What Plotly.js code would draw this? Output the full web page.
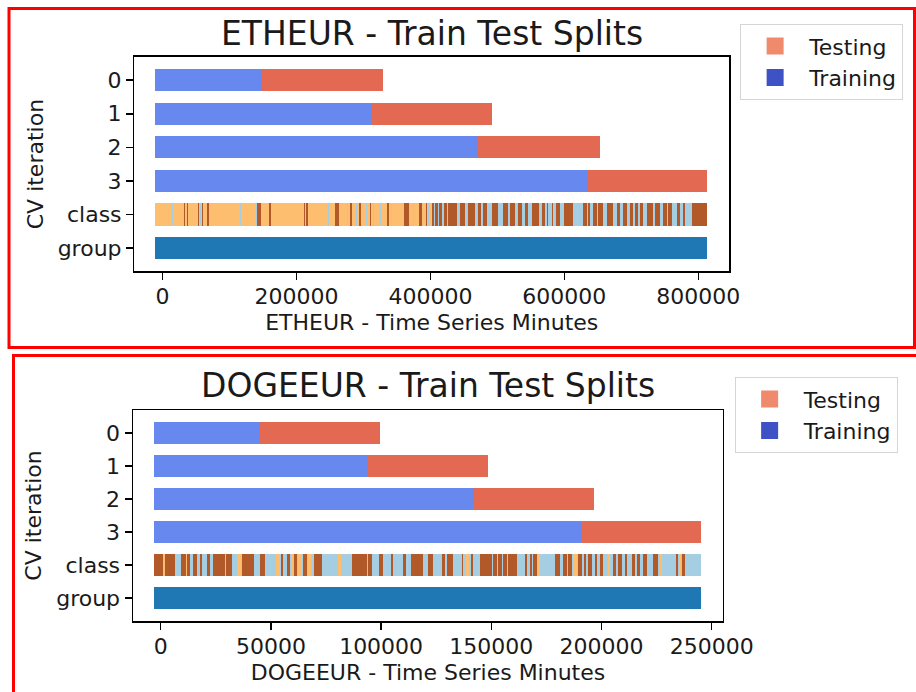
<!DOCTYPE html>
<html><head><meta charset="utf-8">
<script src="https://cdn.plot.ly/plotly-3.0.1.min.js"></script>
<style>html,body{margin:0;padding:0;background:#fff}#chart{width:916px;height:692px}</style>
</head><body><div id="chart"></div><script>
// ---------------- DATA (minutes) ----------------
const rowLabels = ['0', '1', '2', '3', 'class', 'group'];
const classColors = ['#fdbf6f', '#b15928', '#a6cee3']; // class id 0,1,2

// ETHEUR
const ethBarStart = -11400;
const ethTrainEnd = [148900, 311300, 471100, 634300];
const ethTestEnd  = [329600, 492400, 653300, 812700];
const ethTicks = [0, 200000, 400000, 600000, 800000];
// class runs, in thousands of minutes: [from, to, classId]
const ethClassRuns = [
  [-11.4,429.3,0],[429.3,812.7,2],
  [14.0,16.3,2],[32.0,34.2,1],[36.4,38.7,1],[52.9,54.4,1],[55.9,57.4,2],[58.8,60.3,1],[66.3,69.3,1],
  [115.6,117.1,2],[139.5,141.0,2],[141.7,147.7,1],[159.3,162.3,1],[211.2,213.4,1],[214.9,217.2,1],
  [247.0,248.5,2],[258.2,263.5,1],[275.4,276.9,2],[279.9,283.3,1],[288.8,290.3,2],[292.8,296.3,1],
  [303.8,305.3,2],[310.2,312.0,1],[314.2,315.7,2],[324.7,326.2,2],[334.6,338.6,1],[341.1,342.6,2],
  [360.0,368.5,1],[374.0,375.5,2],[382.4,387.9,1],[393.4,394.9,1],[396.4,397.9,2],
  [402.4,405.4,1],[405.4,406.9,2],[406.9,411.4,1],[411.4,412.9,2],[412.9,417.3,1],[417.3,420.3,2],
  [420.3,424.8,1],[424.8,426.3,2],[426.3,429.3,1],
  [429.3,439.3,1],[444.4,451.9,1],[456.6,466.6,1],[471.5,475.1,1],[479.0,484.1,1],[491.5,501.4,1],
  [508.9,516.3,1],[518.9,526.3,1],[531.3,536.3,1],[541.3,546.2,1],[551.3,562.6,1],[566.2,571.2,1],
  [573.7,576.1,1],[581.2,583.5,1],[587.6,593.6,1],[599.5,612.5,1],[628.4,633.4,1],[635.8,638.4,1],
  [643.3,648.4,1],[650.8,658.2,1],[663.3,673.2,1],[678.2,683.2,1],[688.1,693.2,1],[698.1,703.0,1],
  [705.6,710.5,1],[713.1,718.0,1],[723.1,733.0,1],[735.6,743.0,1],[747.8,752.9,1],[755.3,760.3,1],
  [767.9,772.8,1],[777.7,780.2,1],[790.3,812.7,1]
];

// DOGEEUR
const dogeBarStart = -3200;
const dogeTrainEnd = [45200, 94200, 142200, 191300];
const dogeTestEnd  = [99600, 148600, 196700, 245100];
const dogeTicks = [0, 50000, 100000, 150000, 200000, 250000];
const dogeClassRuns = [
  [-3.2,245.1,2],
  [-3.2,6.5,1],[1.0,2.0,0],[9.1,13.3,1],[11.5,11.9,0],[14.5,16.3,1],[17.8,18.6,1],[20.9,22.4,1],
  [23.6,29.2,1],[29.6,32.2,1],[34.8,36.3,0],[36.7,42.3,1],[45.1,47.3,1],[52.3,54.1,0],[54.4,55.6,1],
  [57.2,58.7,1],[59.0,60.2,0],[60.5,61.7,1],[62.4,64.0,0],[64.4,66.2,1],[66.8,68.1,0],[69.6,73.0,1],
  [80.6,81.7,0],[86.7,93.5,1],[94.2,95.7,1],[99.2,101.0,1],[104.4,105.5,1],[109.8,111.3,1],
  [111.6,112.3,0],[113.6,118.9,1],[121.4,123.7,1],[127.5,129.0,1],[129.8,132.8,1],[136.6,137.3,1],
  [138.5,140.0,0],[140.6,141.8,1],[144.9,150.2,1],[150.9,152.4,1],[153.2,154.7,1],[155.4,157.0,1],
  [157.7,161.5,1],[165.3,166.3,1],[167.6,168.3,1],[169.0,170.6,1],[171.3,172.1,0],[178.9,181.2,1],
  [182.7,184.2,1],[184.9,186.5,1],[187.2,188.7,0],[189.5,191.0,1],[192.1,193.0,1],[194.0,195.5,1],
  [197.0,197.8,1],[199.3,200.8,1],[203.1,203.8,0],[205.3,206.4,1],[207.6,209.2,1],[210.7,211.4,1],
  [213.7,215.2,1],[216.0,217.5,1],[219.0,220.5,1],[223.5,225.8,1],[226.5,227.3,0],[233.8,234.8,1],
  [235.3,235.9,0],[236.4,237.9,1]
];

// ---------------- STYLE ----------------
const FONT = 'DejaVu Sans, Liberation Sans, sans-serif';
const TXT = '#1a1a1a';
const trainColor = '#6788ee', testColor = '#e36953';
const trainLegendColor = '#3e51c5', testLegendColor = '#ef8a6c';
const groupColor = '#1f77b4';
const BW = 0.664;

function chartTraces(xa, ya, leg, start, trainEnd, testEnd, classRuns) {
  const cvY = trainEnd.map((_, i) => i + 0.5);
  const classY = rowLabels.indexOf('class') + 0.5;
  const groupY = rowLabels.indexOf('group') + 0.5;
  const end = testEnd[testEnd.length - 1];
  const common = {type: 'bar', orientation: 'h', xaxis: xa, yaxis: ya, width: BW,
                  hoverinfo: 'skip', showlegend: false, marker: {line: {width: 0}}};
  return [
    Object.assign({}, common, {name: 'Training', y: cvY, base: cvY.map(() => start),
      x: trainEnd.map(v => v - start), marker: {color: trainColor, line: {width: 0}}}),
    Object.assign({}, common, {name: 'Testing', y: cvY, base: trainEnd,
      x: testEnd.map((v, i) => v - trainEnd[i]), marker: {color: testColor, line: {width: 0}}}),
    Object.assign({}, common, {name: 'class', y: classRuns.map(() => classY),
      base: classRuns.map(r => r[0] * 1000), x: classRuns.map(r => (r[1] - r[0]) * 1000),
      marker: {color: classRuns.map(r => classColors[r[2]]), line: {width: 0}}}),
    Object.assign({}, common, {name: 'group', y: [groupY], base: [start], x: [end - start],
      marker: {color: groupColor, line: {width: 0}}}),
    {type: 'bar', orientation: 'h', x: [null], y: [null], xaxis: xa, yaxis: ya, name: 'Testing',
      legend: leg, showlegend: true,
      marker: {color: testLegendColor, line: {color: testLegendColor, width: 5}}},
    {type: 'bar', orientation: 'h', x: [null], y: [null], xaxis: xa, yaxis: ya, name: 'Training',
      legend: leg, showlegend: true,
      marker: {color: trainLegendColor, line: {color: trainLegendColor, width: 5}}}
  ];
}

const data = [].concat(
  chartTraces('x', 'y', 'legend', ethBarStart, ethTrainEnd, ethTestEnd, ethClassRuns),
  chartTraces('x2', 'y2', 'legend2', dogeBarStart, dogeTrainEnd, dogeTestEnd, dogeClassRuns)
);

function xAxis(domain, anchor, range, ticks, title) {
  return {domain, anchor, range, tickvals: ticks, tickformat: 'd', ticks: 'outside', ticklen: 7,
    tickwidth: 1.5, tickcolor: '#000', showline: true, mirror: true, linecolor: '#000', linewidth: 1.5,
    showgrid: false, zeroline: false, fixedrange: true, ticklabelstandoff: -2,
    tickfont: {family: FONT, size: 22, color: TXT},
    title: {text: title, font: {family: FONT, size: 22, color: TXT}, standoff: 6}};
}
function yAxis(domain, anchor) {
  return {domain, anchor, range: [6.2, -0.2], tickvals: rowLabels.map((_, i) => i + 0.5),
    ticktext: rowLabels, ticks: 'outside', ticklen: 7, tickwidth: 1.5, tickcolor: '#000',
    showline: true, mirror: true, linecolor: '#000', linewidth: 1.5, showgrid: false, zeroline: false,
    fixedrange: true, tickfont: {family: FONT, size: 22, color: TXT},
    title: {text: 'CV iteration', font: {family: FONT, size: 22, color: TXT}, standoff: 8}};
}
function legendCfg(x, y) {
  return {x, y, xanchor: 'left', yanchor: 'top', bgcolor: '#fff', bordercolor: '#d5d5d5',
    borderwidth: 1, traceorder: 'normal', itemwidth: 58, font: {family: FONT, size: 22, color: TXT}};
}

const layout = {
  width: 916, height: 692, margin: {l: 0, r: 0, t: 0, b: 0},
  paper_bgcolor: '#fff', plot_bgcolor: '#fff', barmode: 'overlay', bargap: 0,
  font: {family: FONT, color: TXT},
  xaxis: xAxis([0.1468, 0.7959], 'y', [-41970, 845970], ethTicks, 'ETHEUR - Time Series Minutes'),
  yaxis: yAxis([0.6077, 0.918], 'x'),
  xaxis2: xAxis([0.1452, 0.7893], 'y2', [-12570, 255120], dogeTicks, 'DOGEEUR - Time Series Minutes'),
  yaxis2: yAxis([0.1026, 0.4075], 'x2'),
  legend: legendCfg(0.808, 0.965),
  legend2: legendCfg(0.802, 0.455),
  annotations: [
    {text: 'ETHEUR - Train Test Splits', xref: 'paper', yref: 'paper', x: 0.4713, y: 0.952,
     xanchor: 'center', yanchor: 'middle', showarrow: false, font: {family: FONT, size: 33, color: TXT}},
    {text: 'DOGEEUR - Train Test Splits', xref: 'paper', yref: 'paper', x: 0.4672, y: 0.4436,
     xanchor: 'center', yanchor: 'middle', showarrow: false, font: {family: FONT, size: 33, color: TXT}}
  ],
  shapes: [
    {type: 'rect', xref: 'paper', yref: 'paper', x0: 9 / 916, x1: 914.5 / 916,
     y0: 1 - 8.5 / 692, y1: 1 - 347.5 / 692, line: {color: '#ff0000', width: 3}, layer: 'above'},
    {type: 'rect', xref: 'paper', yref: 'paper', x0: 13.5 / 916, x1: 1.02,
     y0: 1 - 355.5 / 692, y1: -0.02, line: {color: '#ff0000', width: 3}, layer: 'above'}
  ]
};

Plotly.newPlot('chart', data, layout, {displayModeBar: false, staticPlot: true});
</script></body></html>
